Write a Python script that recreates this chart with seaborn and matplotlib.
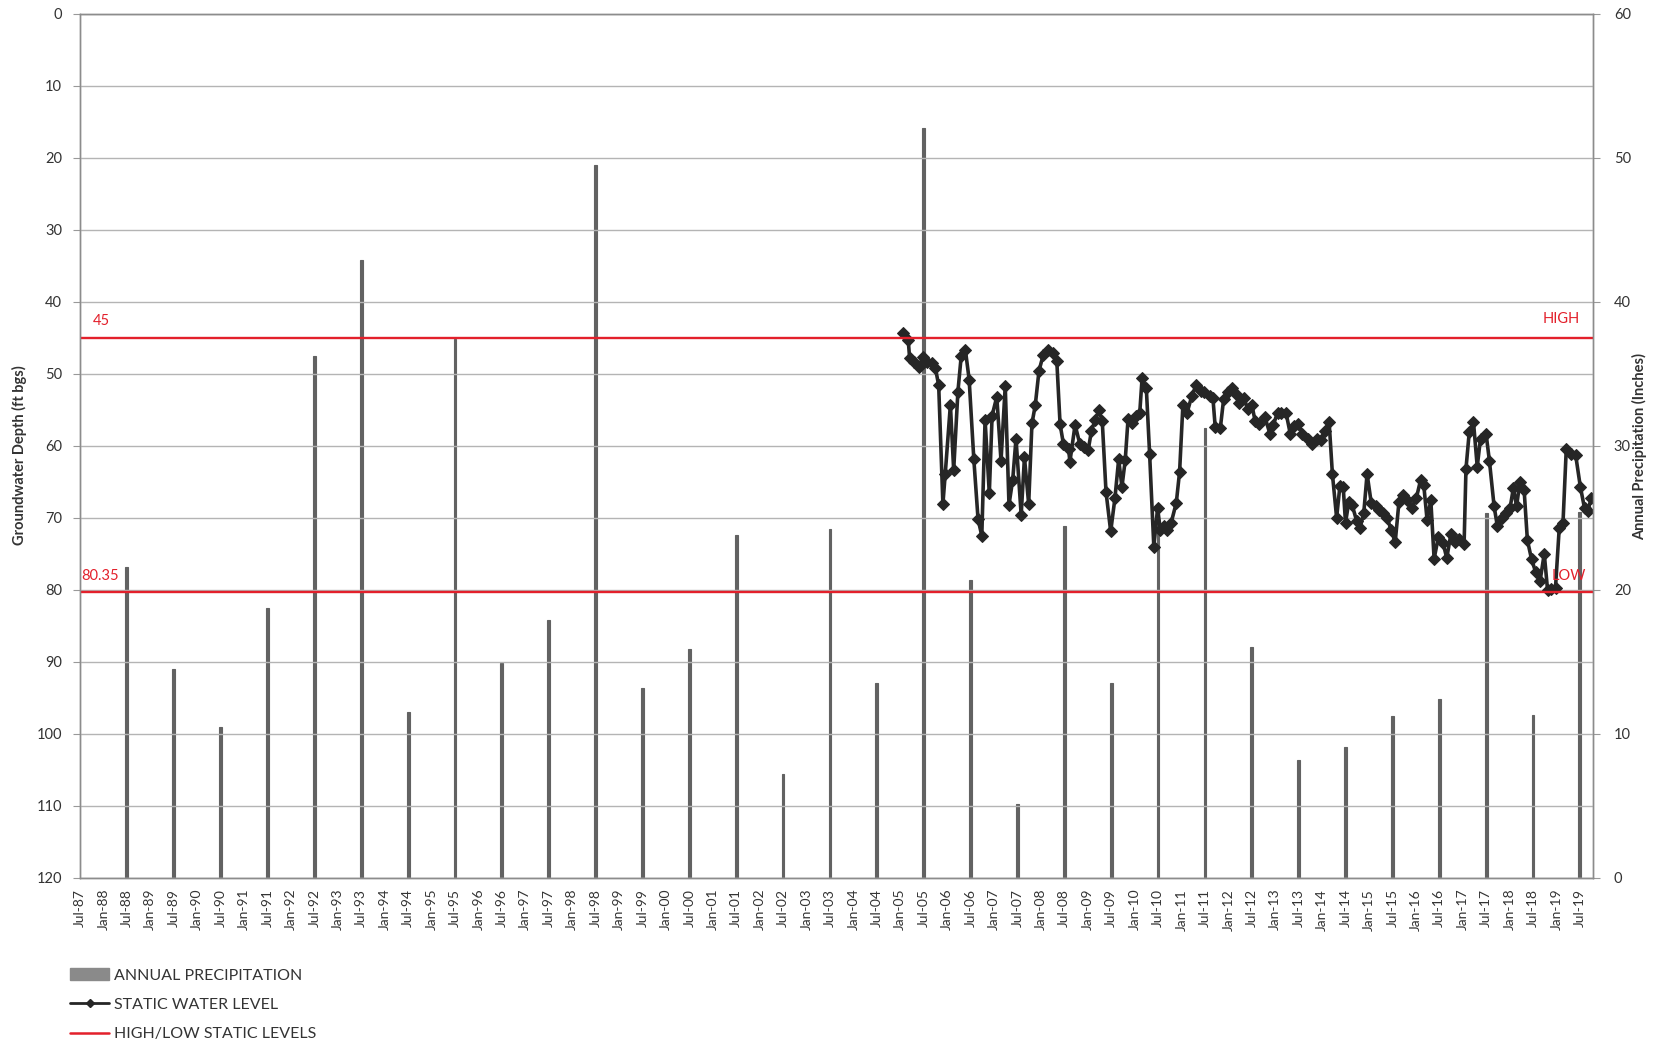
import numpy as np
import pandas as pd
import matplotlib
matplotlib.use('Agg')
import matplotlib.pyplot as plt
import seaborn as sns
from matplotlib.lines import Line2D
from matplotlib.patches import Patch

# annual precipitation (inches), one bar each July
precip_years = np.arange(1988, 2020)
precip_in = [21.6, 14.5, 10.5, 18.7, 36.2, 42.9, 11.5, 37.4, 14.9, 17.9, 49.5,
             13.2, 15.9, 23.8, 7.2, 24.2, 13.5, 52.1, 20.7, 5.1, 24.4, 13.5,
             25.6, 31.2, 16.0, 8.2, 9.1, 11.2, 12.4, 25.3, 11.3, 25.4]

# static water level, decimal year vs depth (ft bgs)
swl_year = [2005.06, 2005.17, 2005.20, 2005.29, 2005.40, 2005.48, 2005.57, 2005.68, 2005.75, 2005.82,
            2005.91, 2005.96, 2006.07, 2006.14, 2006.23, 2006.30, 2006.39, 2006.47, 2006.57, 2006.66,
            2006.74, 2006.81, 2006.90, 2006.96, 2007.06, 2007.15, 2007.24, 2007.32, 2007.40, 2007.47,
            2007.58, 2007.65, 2007.74, 2007.81, 2007.88, 2007.96, 2008.05, 2008.15, 2008.25, 2008.34,
            2008.41, 2008.48, 2008.59, 2008.62,
            2008.73, 2008.83, 2008.93, 2009.01, 2009.08, 2009.16, 2009.24, 2009.31, 2009.39, 2009.49,
            2009.58, 2009.66, 2009.73, 2009.80, 2009.86, 2009.95, 2010.04, 2010.11, 2010.16, 2010.25,
            2010.32, 2010.41, 2010.49, 2010.55, 2010.63, 2010.70, 2010.78, 2010.89, 2010.96, 2011.03,
            2011.12, 2011.22, 2011.31, 2011.41, 2011.49, 2011.60, 2011.67, 2011.72, 2011.83, 2011.90,
            2011.99, 2012.07, 2012.16, 2012.23, 2012.33, 2012.41,
            2012.50, 2012.57, 2012.66, 2012.78, 2012.89, 2012.96, 2013.05, 2013.13, 2013.23, 2013.32,
            2013.40, 2013.49, 2013.58, 2013.69, 2013.79, 2013.89, 2013.97, 2014.06, 2014.15, 2014.22,
            2014.31, 2014.38, 2014.45, 2014.50, 2014.57, 2014.64, 2014.74, 2014.81, 2014.89, 2014.96,
            2015.05, 2015.14, 2015.21, 2015.30, 2015.39, 2015.47, 2015.56, 2015.64, 2015.73, 2015.81,
            2015.92, 2016.01, 2016.10, 2016.17, 2016.24,
            2016.32, 2016.39, 2016.48, 2016.58, 2016.66, 2016.75, 2016.84, 2016.93, 2017.03, 2017.07,
            2017.14, 2017.23, 2017.31, 2017.38, 2017.50, 2017.57, 2017.67, 2017.74, 2017.83, 2017.92,
            2018.01, 2018.08, 2018.15, 2018.22, 2018.31, 2018.38, 2018.47, 2018.56, 2018.65, 2018.74,
            2018.81, 2018.89, 2018.98, 2019.06, 2019.14, 2019.21, 2019.32, 2019.41, 2019.51, 2019.60,
            2019.67, 2019.74]
swl_depth = [44.4, 45.3, 47.8, 48.3, 49.0, 47.7, 48.3, 48.5, 49.2, 51.6,
             68.1, 63.9, 54.3, 63.4, 52.5, 47.6, 46.7, 50.8, 61.9, 70.2,
             72.5, 56.4, 66.6, 55.8, 53.2, 62.1, 51.7, 68.2, 64.7, 59.0,
             69.6, 61.6, 68.1, 56.9, 54.4, 49.6, 47.4, 46.7, 47.1, 48.2,
             57.0, 59.7, 60.4, 62.2,
             57.1, 59.7, 60.2, 60.6, 57.9, 56.4, 55.1, 56.6, 66.4, 71.9,
             67.3, 61.9, 65.7, 62.0, 56.3, 56.9, 55.8, 55.4, 50.6, 52.0,
             61.1, 74.0, 68.7, 71.7, 71.2, 71.7, 70.7, 67.9, 63.6, 54.4,
             55.4, 53.1, 51.6, 52.4, 52.6, 53.1, 53.3, 57.4, 57.5, 53.5,
             52.6, 52.0, 52.8, 54.0, 53.3, 54.9,
             54.3, 56.5, 57.0, 56.0, 58.4, 57.1, 55.4, 55.5, 55.4, 58.3,
             57.2, 57.0, 58.3, 59.0, 59.7, 59.0, 59.2, 57.9, 56.7, 63.9,
             70.0, 65.6, 65.7, 70.7, 67.8, 68.2, 70.5, 71.4, 69.3, 63.9,
             68.0, 68.4, 68.9, 69.4, 70.0, 71.7, 73.4, 67.8, 66.8, 67.5,
             68.7, 67.3, 64.8, 65.5, 70.3,
             67.6, 75.7, 72.7, 73.5, 75.6, 72.2, 73.4, 73.0, 73.6, 63.2,
             58.1, 56.7, 62.9, 59.0, 58.4, 62.1, 68.4, 71.2, 70.0, 69.4,
             68.7, 65.9, 68.4, 65.0, 66.1, 73.1, 75.8, 77.6, 78.8, 75.0,
             80.0, 79.9, 79.7, 71.4, 70.7, 60.4, 61.1, 61.3, 65.7, 68.7,
             69.1, 67.3]

high_level = 45
low_level = 80.35

# x labels every six months from Jul-87 to Jul-19
tick_pos = np.arange(1987.5, 2019.51, 0.5)
tick_lbl = []
for t in tick_pos:
    yr = int(np.floor(t))
    mon = 'Jul' if t - yr > 0.25 else 'Jan'
    tick_lbl.append('%s-%02d' % (mon, yr % 100))

sns.set_style('white')
plt.rcParams['font.family'] = ['Lato', 'DejaVu Sans']

W, H = 1660, 1048
fig = plt.figure(figsize=(W / 100, H / 100), dpi=100)
L, R, T, B = 80, 1593, 13.8, 877.7
ax = fig.add_axes([L / W, 1 - B / H, (R - L) / W, (B - T) / H])
ax2 = ax.twinx()

bars = pd.DataFrame({'x': precip_years + 0.5, 'p': precip_in})
sns.barplot(data=bars, x='x', y='p', native_scale=True, width=0.06,
            color='#626262', saturation=1, errorbar=None,
            edgecolor='#626262', linewidth=0.8, ax=ax2)

swl = pd.DataFrame({'yr': swl_year, 'depth': swl_depth})
sns.lineplot(data=swl, x='yr', y='depth', estimator=None, sort=False,
             color='#262626', lw=2.6, marker='D', markersize=6,
             markeredgecolor='#262626', ax=ax)

red = '#e3202b'
ax.axhline(high_level, color=red, lw=1.7)
ax.axhline(low_level, color=red, lw=1.7)
ax.text(1987.78, 43.6, '45', color=red, fontsize=10.5, va='bottom', ha='left')
ax.text(1987.52, 79.0, '80.35', color=red, fontsize=10.5, va='bottom', ha='left')
ax.text(2019.5, 43.4, 'HIGH', color=red, fontsize=10.5, va='bottom', ha='right')
ax.text(2019.62, 79.0, 'LOW', color=red, fontsize=10.5, va='bottom', ha='right')

# line on top of bars
ax.set_zorder(ax2.get_zorder() + 1)
ax.patch.set_visible(False)

ax.set_xlim(1987.5, 2019.78)
ax.set_ylim(120, 0)
ax.set_yticks(np.arange(0, 121, 10))
ax2.set_ylim(0, 60)
ax2.set_yticks(np.arange(0, 61, 10))
ax.set_xticks(tick_pos)
ax.set_xticklabels(tick_lbl, rotation=90, fontsize=10, color='#333333')
ax.yaxis.grid(True, color='#b4b4b4', lw=1)
ax.set_xlabel('')
ax.set_ylabel('')
ax2.set_ylabel('')
ax2.set_xlabel('')

ax.tick_params(axis='y', length=5, color='#999999', pad=8, labelsize=10.5, labelcolor='#333333')
ax.tick_params(axis='x', length=0, pad=8)
ax2.tick_params(axis='y', length=5, color='#999999', pad=10, labelsize=10.5, labelcolor='#333333')
for a in (ax, ax2):
    for s in a.spines.values():
        s.set_color('#8c8c8c')
        s.set_linewidth(1)

fig.text(19 / W, 1 - 455 / H, 'Groundwater Depth (ft bgs)', rotation=90,
         ha='center', va='center', fontsize=10.5, fontweight='bold', color='#333333')
fig.text(1640 / W, 1 - 447 / H, 'Annual Precipitation (Inches)', rotation=90,
         ha='center', va='center', fontsize=10.5, fontweight='bold', color='#333333')

handles = [Patch(facecolor='#8a8a8a', edgecolor='#8a8a8a'),
           Line2D([], [], color='#262626', lw=2, marker='D', markersize=4),
           Line2D([], [], color=red, lw=1.8)]
labels = ['ANNUAL PRECIPITATION', 'STATIC WATER LEVEL', 'HIGH/LOW STATIC LEVELS']
fig.legend(handles, labels, loc='upper left', bbox_to_anchor=(64 / W, 1 - 962 / H),
           frameon=False, fontsize=11.5, handlelength=2.4, handletextpad=0.3,
           labelspacing=0.95, borderaxespad=0, labelcolor='#333333')

fig.savefig('out.png', dpi=100, facecolor='white')
